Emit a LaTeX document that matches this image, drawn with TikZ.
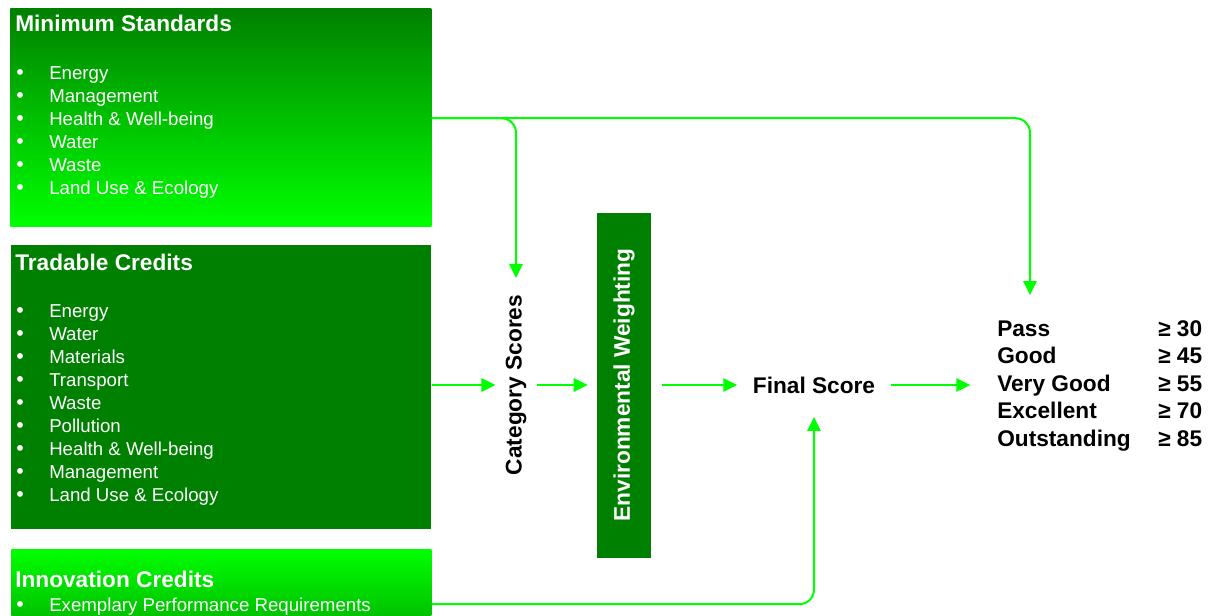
\documentclass[tikz,border=0pt]{standalone}
\usepackage{fontspec}
\setmainfont{Liberation Sans}
\usepackage{xcolor}
\usetikzlibrary{arrows.meta,positioning,calc}

\definecolor{DarkGr}{RGB}{0,128,0}
\definecolor{LiteGr}{RGB}{0,255,0}
\definecolor{MidGr}{RGB}{0,195,0}

\begin{document}
\begin{tikzpicture}[x=0.75pt,y=-0.75pt,
    panel/.style={inner sep=0pt,anchor=north west},
    head/.style={inner sep=0pt,anchor=base west,text=white,font=\fontsize{17}{20}\selectfont\bfseries},
    entry/.style={inner sep=0pt,anchor=base west,text=white,font=\fontsize{14}{16}\selectfont},
    dot/.style={inner sep=0pt,anchor=base west,text=white,font=\fontsize{16}{16}\selectfont},
    grade/.style={inner sep=0pt,anchor=base west,font=\fontsize{17}{20}\selectfont\bfseries},
    flow/.style={draw=LiteGr,line width=1.5pt,-{Triangle[length=10.5pt,width=10pt]}}]
\useasboundingbox (0,0) rectangle (1215,615);
\newcommand{\MinList}{Energy,Management,Health \& Well-being,Water,Waste,Land Use \& Ecology}
\newcommand{\TradeList}{Energy,Water,Materials,Transport,Waste,Pollution,Health \& Well-being,Management,Land Use \& Ecology}
% the three credit boxes
\node[panel,top color=DarkGr,bottom color=LiteGr,minimum width=315.75pt,minimum height=163.5pt] (ms) at (10,8) {};
\node[panel,fill=DarkGr,minimum width=315pt,minimum height=213pt] (tc) at (11,245) {};
\node[panel,top color=LiteGr,bottom color=MidGr,minimum width=315pt,minimum height=49.5pt] (ic) at (11,549) {};

\node[head] (mshead) at (15,31) {Minimum Standards};
\foreach \txt [count=\i] in \MinList{
  \node[dot] (msb\i) at (16,{79+23*(\i-1)}) {•};
  \node[entry] (ms\i) at (49,{79+23*(\i-1)}) {\txt};}
\node[head] (tchead) at (15,270) {Tradable Credits};
\foreach \txt [count=\i] in \TradeList{
  \node[dot] (tcb\i) at (16,{317+23.1*(\i-1)}) {•};
  \node[entry] (tc\i) at (49,{317+23.1*(\i-1)}) {\txt};}
\node[head] (ichead) at (15,587) {Innovation Credits};
\node[dot] (icb1) at (16,611) {•};
\node[entry] (ic1) at (49,611) {Exemplary Performance Requirements};

% scoring chain
\node[rotate=90,inner sep=7.5pt,font=\fontsize{17}{20}\selectfont\bfseries] (cat) at (516,385) {Category Scores};
\node[rotate=90,fill=DarkGr,text=white,inner sep=0pt,minimum width=258.75pt,minimum height=40.5pt,
      font=\fontsize{17}{20}\selectfont\bfseries] (env) at (624,385) {Environmental Weighting};
\node[inner xsep=11.5pt,inner ysep=17.5pt,font=\fontsize{17}{20}\selectfont\bfseries] (final) at (814,385) {Final Score};

\foreach \lab/\val [count=\i] in {Pass/30,Good/45,Very Good/55,Excellent/70,Outstanding/85}{
  \node[grade] (g\i) at (997,{336+27.5*(\i-1)}) {\lab};
  \node[grade] (v\i) at (1158,{336+27.5*(\i-1)}) {≥ \val};}
\coordinate (gin) at (1030,295);

\draw[flow] (tc.east |- cat.center) -- (cat.north);
\draw[flow,shorten >=6.75pt] (cat.south) -- (env.north);
\draw[flow,shorten <=8pt] (env.south) -- (final.west);
\draw[flow,shorten >=20pt] (final.east) -- (final.east -| g3.west);
\draw[flow,rounded corners=11pt,shorten >=5pt] ([yshift=1.5pt]ms.east |- ms3) -| (cat.east);
\draw[flow,rounded corners=11pt] ([yshift=1.5pt]ms.east |- ms3) -| (gin);
\draw[flow,rounded corners=11pt] ([yshift=1.5pt]ic.east |- ic1) -| (final.south);
\end{tikzpicture}
\end{document}
